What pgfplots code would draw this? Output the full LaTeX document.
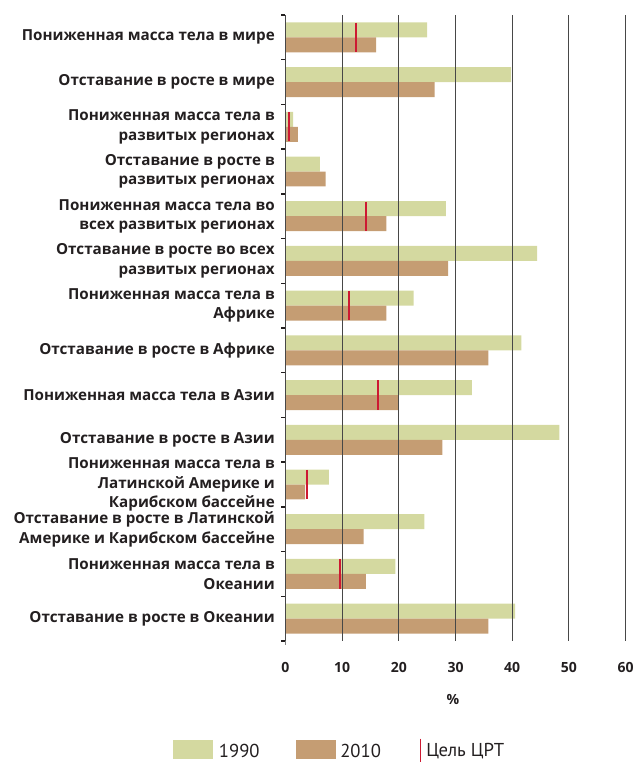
\documentclass[border=0pt]{standalone}
\usepackage{pgfplots}
\pgfplotsset{compat=1.18}
\usepackage{fontspec}
\setmainfont{PT Sans}
\newfontfamily\labfont{Open Sans}
\definecolor{c1990}{RGB}{212,217,160}
\definecolor{c2010}{RGB}{197,157,115}
\definecolor{mdg}{RGB}{205,25,50}
\definecolor{txt}{RGB}{35,31,32}
\begin{document}
\begin{tikzpicture}
\path[use as bounding box] (0,0) rectangle (474pt,-571.5pt);
\begin{axis}[
  at={(213.975pt,-11.25pt)}, anchor=north west,
  scale only axis, width=255.3pt, height=469.5pt,
  xmin=0, xmax=60, ymin=0.5, ymax=14.5, y dir=reverse,
  xtick={0,10,...,60},
  /pgf/number format/assume math mode=true,
  xmajorgrids, major grid style={black!72, line width=0.75pt},
  axis line style={draw=none},
  major tick length=0pt,
  xtick pos=bottom, ytick pos=left,
  ytick={1,...,14},
  yticklabels={
    {Пониженная масса тела в мире},
    {Отставание в росте в мире},
    {Пониженная масса тела в\\развитых регионах},
    {Отставание в росте в\\развитых регионах},
    {Пониженная масса тела во\\всех развитых регионах},
    {Отставание в росте во всех\\развитых регионах},
    {Пониженная масса тела в\\Африке},
    {Отставание в росте в Африке},
    {Пониженная масса тела в Азии},
    {Отставание в росте в Азии},
    {Пониженная масса тела в\\Латинской Америке и\\Карибском бассейне},
    {Отставание в росте в Латинской\\Америке и Карибском бассейне},
    {Пониженная масса тела в\\Океании},
    {Отставание в росте в Океании}},
  yticklabel style={align=right, inner sep=0pt, xshift=-7.7pt, text=txt,
    font=\labfont\fontsize{11.4}{14.6}\selectfont\bfseries},
  extra y ticks={0.5,1.5,...,14.5},
  extra y tick labels={},
  extra y tick style={major tick length=3.2pt, tick align=outside,
    tick style={draw=txt, line width=1.1pt}},
  xticklabel style={inner sep=0pt, yshift=-15.8pt, text=txt,
    font=\labfont\fontsize{10.5}{12}\selectfont\bfseries},
  xlabel={\%},
  x label style={at={(axis description cs:0.4927,0)}, anchor=north,
    inner sep=0pt, yshift=-39.5pt, text=txt,
    font=\labfont\fontsize{10.5}{12}\selectfont\bfseries},
  xbar, bar width=0.335,
  axis on top,
  clip=false,
]
\addplot[fill=c1990, draw=none, bar shift=-0.1675] coordinates {
  (25.0,1) (39.8,2) (1.4,3) (6.1,4) (28.3,5) (44.4,6) (22.6,7)
  (41.6,8) (32.9,9) (48.3,10) (7.7,11) (24.5,12) (19.4,13) (40.5,14)};
\addplot[fill=c2010, draw=none, bar shift=0.1675] coordinates {
  (16.0,1) (26.3,2) (2.2,3) (7.1,4) (17.8,5) (28.7,6) (17.8,7)
  (35.8,8) (20.0,9) (27.7,10) (3.5,11) (13.8,12) (14.2,13) (35.8,14)};
\addplot[xbar=false, only marks, mark=|, mark size=11pt, draw=mdg,
  line width=1.6pt, mark options={draw=mdg, line width=1.6pt}] coordinates {
  (12.5,1) (0.7,3) (14.2,5) (11.3,7) (16.3,9) (3.8,11) (9.7,13)};
\draw[black!50, line width=0.9pt] (axis cs:0,0.5) -- (axis cs:0,14.6);
\end{axis}
% legend
\fill[c1990] (129.5pt,-555pt) rectangle (159.5pt,-569pt);
\node[anchor=west, inner sep=0pt, text=txt, font=\fontsize{14}{16}\selectfont] at (164pt,-563pt) {1990};
\fill[c2010] (222pt,-555pt) rectangle (251.8pt,-569pt);
\node[anchor=west, inner sep=0pt, text=txt, font=\fontsize{14}{16}\selectfont] at (255pt,-563pt) {2010};
\draw[mdg, line width=1.1pt] (315.5pt,-554pt) -- (315.5pt,-571.5pt);
\node[anchor=west, inner sep=0pt, text=txt, font=\fontsize{14}{16}\selectfont] at (319.5pt,-563pt) {Цель ЦРТ};
\end{tikzpicture}
\end{document}
